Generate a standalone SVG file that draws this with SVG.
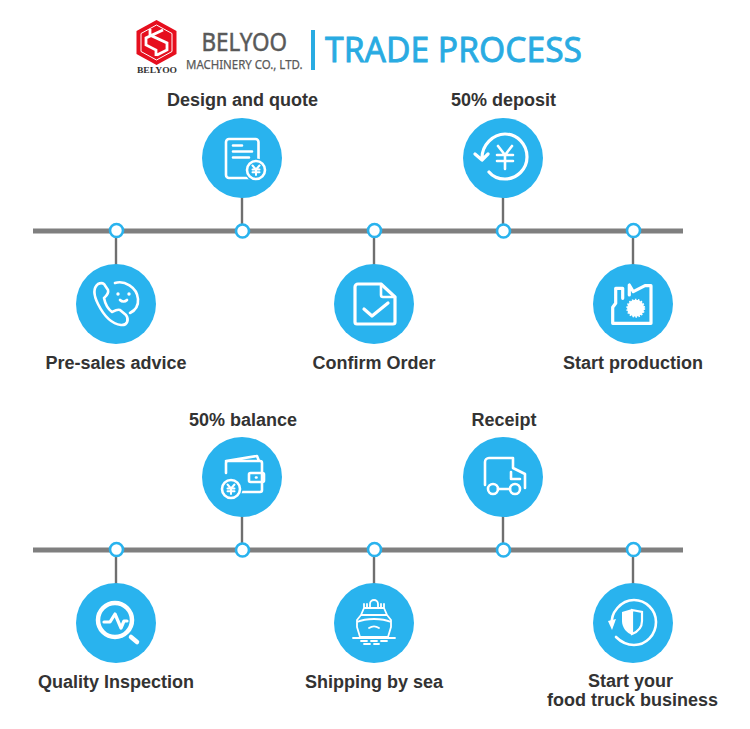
<svg xmlns="http://www.w3.org/2000/svg" width="750" height="729" viewBox="0 0 750 729">
<style>
.lbl{font-family:"Liberation Sans",Arial,sans-serif;font-weight:700;font-size:18px;fill:#333;text-anchor:middle}
.disc{fill:#29b3ee}
.ic{fill:none;stroke:#fff;stroke-width:2.600;stroke-linecap:round;stroke-linejoin:round}
.thin{stroke-width:1.800}
.w3{stroke-width:3.200}
.w4{stroke-width:4.500}
.rail{stroke:#7f7f7f;stroke-width:5}
.stem{stroke:#6f6f6f;stroke-width:2.400}
.dot{fill:#fff;stroke:#29b3ee;stroke-width:2.600}
</style>
<defs>
<g id="yen"><path fill="none" stroke="#fff" stroke-width="2" stroke-linecap="round" stroke-linejoin="round" d="M-3.500-4.500L0-.5L3.500-4.500M0-.5V5M-3.500-.5H3.500M-3.500 2.200H3.500"/></g>
<g id="yen-big"><path fill="none" stroke="#fff" stroke-width="2.600" stroke-linecap="round" stroke-linejoin="round" d="M-7-11L0-2L7-11M0-2V12M-8-2H8M-8 4H8"/></g>
</defs>
<rect width="750" height="729" fill="#fff"/>
<g id="header">
<path d="M156.500 20L176.500 31V54L156.500 65L136.500 54V31Z" fill="#e60f1e"/>
<path d="M156.500 25L172 33.500V51.500L156.500 60L141 51.500V33.500Z" fill="none" stroke="#fff" stroke-width="1"/>
<path d="M163 30L146 38V45L156 50V56M150 29V35L167 43V50L157 55" fill="none" stroke="#fff" stroke-width="2.800"/>
<text x="157" y="73" text-anchor="middle" textLength="40" lengthAdjust="spacingAndGlyphs" font-family="Liberation Serif,serif" font-weight="700" font-size="8.500" fill="#333">BELYOO</text>
<text x="201.500" y="51" textLength="85.500" lengthAdjust="spacingAndGlyphs" font-family="Noto Sans,sans-serif" font-size="25" fill="#595959" stroke="#595959" stroke-width=".5">BELYOO</text>
<text x="186" y="69" textLength="116.500" lengthAdjust="spacingAndGlyphs" font-family="Noto Sans,sans-serif" font-size="12.500" fill="#595959" stroke="#595959" stroke-width=".25">MACHINERY CO., LTD.</text>
<rect x="311" y="30" width="4" height="40" fill="#29abe2"/>
<text x="325" y="62" textLength="257" lengthAdjust="spacingAndGlyphs" font-family="Noto Sans,sans-serif" font-size="35" fill="#29abe2" stroke="#29abe2" stroke-width=".8">TRADE PROCESS</text>
</g>
<g id="connectors">
<line class="rail" x1="33" y1="231" x2="683" y2="231"/>
<line class="rail" x1="33" y1="550" x2="683" y2="550"/>
<line class="stem" x1="116" y1="231" x2="116" y2="266"/>
<line class="stem" x1="242" y1="196" x2="242" y2="231"/>
<line class="stem" x1="374" y1="231" x2="374" y2="266"/>
<line class="stem" x1="503" y1="196" x2="503" y2="231"/>
<line class="stem" x1="633" y1="231" x2="633" y2="266"/>
<line class="stem" x1="116" y1="550" x2="116" y2="585"/>
<line class="stem" x1="242" y1="515" x2="242" y2="550"/>
<line class="stem" x1="374" y1="550" x2="374" y2="585"/>
<line class="stem" x1="503" y1="515" x2="503" y2="550"/>
<line class="stem" x1="633" y1="550" x2="633" y2="585"/>
<circle class="dot" cx="116.500" cy="230.500" r="6.500"/><circle class="dot" cx="242.500" cy="231" r="6.500"/><circle class="dot" cx="374.500" cy="230.500" r="6.500"/><circle class="dot" cx="503.500" cy="231" r="6.500"/><circle class="dot" cx="633.500" cy="230.500" r="6.500"/>
<circle class="dot" cx="116.500" cy="549.500" r="6.500"/><circle class="dot" cx="242.500" cy="550" r="6.500"/><circle class="dot" cx="374.500" cy="549.500" r="6.500"/><circle class="dot" cx="503.500" cy="550" r="6.500"/><circle class="dot" cx="633.500" cy="549.500" r="6.500"/>
</g>
<g id="pre-sales-advice">
<circle class="disc" cx="116" cy="304" r="40"/>
<g transform="translate(116 304)"><path class="ic" d="M-18-20C-23-16-22-8-18 0C-12 12-4 20 5 21C12 21.500 13 15 10 11L4 6C1 5-2 7-4 8C-8 5-11-1-12-6C-10-8-7-10-8-14L-12-20C-14-21.500-16-21-18-20Z"/><path class="ic" d="M-1-21C8-24 21-17 22-5C22.500 1 20 6 14 9M4-4C6-2 9-2 11-4"/><circle cx="2" cy="-10" r="1.700" fill="#fff"/><circle cx="13" cy="-10" r="1.700" fill="#fff"/></g>
<text class="lbl" x="116" y="368.500">Pre-sales advice</text>
</g>
<g id="design-and-quote">
<circle class="disc" cx="242" cy="158" r="40"/>
<g transform="translate(242 158)"><rect class="ic" x="-16" y="-19" width="32.500" height="39" rx="3"/><path class="ic" d="M-9-12.500H0M-9-6.500H10M-9-.5H7"/><circle cx="14" cy="12" r="11.500" fill="#29b3ee"/><circle class="ic" cx="14" cy="12" r="9"/><use href="#yen" transform="translate(14 12)"/></g>
<text class="lbl" x="242.500" y="105.500">Design and quote</text>
</g>
<g id="confirm-order">
<circle class="disc" cx="374" cy="304" r="40"/>
<g transform="translate(374 304)"><path class="ic w3" d="M-16-20H7L21-7V18A2 2 0 0 1 19 20H-17A2 2 0 0 1-19 18V-17A3 3 0 0 1-16-20Z"/><path class="ic" d="M7-20V-9A2 2 0 0 0 9-7H21"/><path class="ic w3" d="M-10 5L-2 12L14-1"/></g>
<text class="lbl" x="374" y="368.500">Confirm Order</text>
</g>
<g id="deposit">
<circle class="disc" cx="503" cy="158" r="40"/>
<g transform="translate(503 158)"><path class="ic w3" d="M-21 0C-21-13-10-24 2-24C14-24 24-14 24-1C24 11 14 21 2 21C-4 21-10 19-14 14M-28-4L-21 2L-15-4"/><use href="#yen-big" transform="translate(2 -1)"/></g>
<text class="lbl" x="503.500" y="105.500">50% deposit</text>
</g>
<g id="start-production">
<circle class="disc" cx="633" cy="304" r="40"/>
<g transform="translate(633 304)"><path class="ic w3" d="M-10.300-5.700V-15.700H-17.300V-.7L-20.300 3.300V19.300H18V-18.300H12L.3-12.300L-3.700-19V-9"/><circle cx="2.700" cy="4.300" r="8.500" fill="#fff" stroke="#fff" stroke-width="2" stroke-dasharray="1.500 1.500"/></g>
<text class="lbl" x="633" y="368.500">Start production</text>
</g>
<g id="balance">
<circle class="disc" cx="242" cy="477" r="40"/>
<g transform="translate(242 477)"><path class="ic" d="M-16-4V-14A2 2 0 0 1-14-16H18A2 2 0 0 1 20-14V13A2 2 0 0 1 18 15H-4M-16-16L15-21L17-16"/><rect class="ic" x="7" y="-4" width="15" height="9" rx="1.500"/><path class="ic" d="M14 .5H14.500"/><circle cx="-11" cy="12" r="11.500" fill="#29b3ee"/><circle class="ic" cx="-11" cy="12" r="9"/><use href="#yen" transform="translate(-11 12)"/></g>
<text class="lbl" x="243" y="425.500">50% balance</text>
</g>
<g id="receipt">
<circle class="disc" cx="503" cy="477" r="40"/>
<g transform="translate(503 477)"><path class="ic" d="M-18 8V-15A4 4 0 0 1-14-19H10V-9L22-3V11M8-5V2H17"/><circle class="ic" cx="-10" cy="12" r="5"/><circle class="ic" cx="12" cy="12" r="5"/><path class="ic" d="M-5 12H7"/></g>
<text class="lbl" x="504" y="425.500">Receipt</text>
</g>
<g id="quality-inspection">
<circle class="disc" cx="116" cy="623" r="40"/>
<g transform="translate(116 623)"><circle class="ic w4" cx="-1" cy="-3" r="17"/><path class="ic w3" d="M-12-1H-6L-1-9L5 5L8-2H11"/><path class="ic w4" d="M15 14L21 19"/></g>
<text class="lbl" x="116" y="687.500">Quality Inspection</text>
</g>
<g id="shipping-by-sea">
<circle class="disc" cx="374" cy="623" r="40"/>
<g transform="translate(374 623)"><path class="ic thin" d="M-4-15V-19A4 4 0 0 1 4-19V-15M-10-19V-15M-7-19V-15M7-19V-15M10-19V-15M-10-15H10L13-8H-13ZM-13-8L-17-3V4L-14 14H14L17 4V-3L13-8M-17-1C-8-5 8-5 17-1M-5 5C-2 3 2 3 5 5M-21 15H21M-13 18H-7M-3 18H3M7 18H13M-10 21H-4M0 21H5"/></g>
<text class="lbl" x="374" y="687.500">Shipping by sea</text>
</g>
<g id="start-business">
<circle class="disc" cx="633" cy="623" r="40"/>
<g transform="translate(633 623)"><path class="ic" d="M-21 2C-23-10-12-23 1-23C13-23 23-13 23-1C23 12 13 22 1 22C-6 22-12 19-17 14"/><path fill="#fff" d="M-25-2L-17-4L-21 7Z"/><path fill="#fff" d="M-11-11L-1-14V12C-6 10-11 5-11-2Z"/><path fill="none" stroke="#fff" stroke-width="2.200" d="M-1-13L9-11V-2C9 5 4 9-1 11Z"/></g>
<text class="lbl" x="630.500" y="687">Start your</text>
<text class="lbl" x="632.500" y="705.500">food truck business</text>
</g>
</svg>
